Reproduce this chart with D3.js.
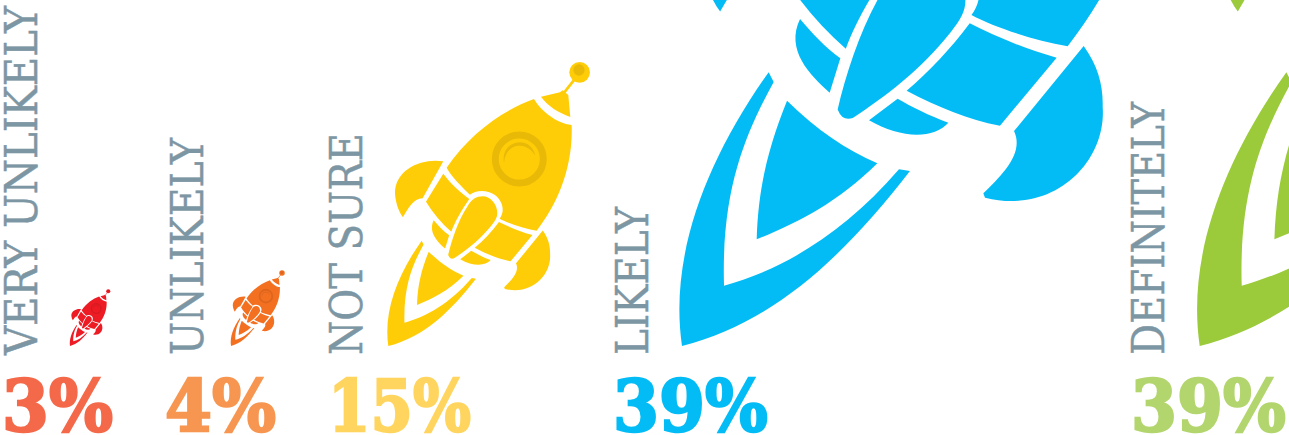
<!DOCTYPE html>
<html>
<head>
<meta charset="utf-8">
<script src="https://cdn.jsdelivr.net/npm/d3@7"></script>
<style>
  html, body { margin: 0; padding: 0; background: #fff; }
  svg { display: block; }
</style>
</head>
<body>
<svg id="chart" width="1289" height="435"></svg>
<script>
// Survey answers and their shares
const answers = ["VERY UNLIKELY", "UNLIKELY", "NOT SURE", "LIKELY", "DEFINITELY"];
const shares = [3, 4, 15, 39, 39];
const rocketColors = ["#ed1c24", "#f37021", "#ffcd08", "#03bcf6", "#9bcb3b"];
const shareColors = ["#f4694a", "#f79651", "#ffd55f", "#03bcf6", "#b3d56e"];

// Rocket outline, drawn with its tail tip at (25, 873) in its own grid
const rocketParts = [
  // hull
  "M462,132 C370,165 270,235 200,338 C215,365 245,395 270,419 C285,406 320,402 345,420 C370,440 375,470 359,491 C385,505 430,520 470,527 C530,450 580,340 575,210 C530,205 485,170 462,132Z",
  // nose cone
  "M483,125 L540,112 L548,106 L565,120 L571,186 C535,172 505,155 483,125Z",
  // left fin
  "M190,319 C130,308 45,340 45,415 C47,450 60,475 69,487 C85,460 100,430 128,430Z",
  // right fin
  "M488.5,526.8 C505,550 511,572 510.4,597 C515,660 455,722 374.6,701.8 L372.7,696.8 C395,675 420,650 408.1,625Z",
  // hull bands
  "M190,356 C215,390 245,415 268,432 C245,465 225,500 214,530 C185,505 160,475 138,440Z",
  "M357,500.7 C385,515 420,530 457.3,540.3 L391.9,618.8 C355,612 320,597 284.2,578.4 C310,557 335,530 357,500.7Z",
  "M161.2,495.7 C175,512 190,528 207.7,541.1 L195.4,580.7 C172.7,560.3 143.8,531.5 161.2,495.7Z",
  "M273.8,587.6 C290,597 310,607 332.3,615.3 C315,635 276.5,633.4 240.8,612.6Z",
  // centre fin
  "M204.6,600 C215,555 235,495 262,455 C275,432 290,424 308,424 C332,424 352,448 352,475 C352,487 346,497 335,511 C300,555 260,585 222,610 Q210,614 204.6,600Z",
  // flame, outer
  "M25,873 C10,770 52,660 125,557 L130.8,568.4 C100,625 70,690 73.5,803.4 C140,785 210,745 275.4,669.2 L288,671 C215,765 135,845 25,873Z",
  // flame, inner
  "M146.2,589.9 C180.4,623.8 215,646.8 250.4,662.2 C203.5,708.4 157.3,731.5 111.2,749.9 C113.1,685.3 126.5,639.2 146.2,589.9Z"
];

const svg = d3.select("#chart");

// One rocket grid unit per 45 share points: rockets grow in proportion to share
const size = d3.scaleLinear().domain([0, 45]).range([0, 1]);
const labelX = d3.scaleOrdinal().domain(d3.range(5)).range([3, 169, 328, 614, 1130]);
const tailX = d3.scaleOrdinal().domain(d3.range(5)).range([70, 231, 388.3, 682, 1199.7]);
const baseY = 346;

const rows = answers.map((answer, i) => ({
  answer, i, share: shares[i], rocket: rocketColors[i], tint: shareColors[i]
}));

const column = svg.selectAll("g.column").data(rows).join("g").attr("class", "column");

// Rockets
const rocket = column.append("g")
  .attr("transform", d => `translate(${tailX(d.i)},${baseY}) scale(${size(d.share)}) translate(-25,-873)`);

rocket.selectAll("path.part")
  .data(d => rocketParts.map(p => ({ p, color: d.rocket })))
  .join("path")
  .attr("class", "part")
  .attr("d", d => d.p)
  .attr("fill", d => d.color);

// Antenna, its tip, and the porthole
rocket.append("path")
  .attr("d", "M550,116 L588,68")
  .attr("stroke", d => d.rocket).attr("stroke-width", 8).attr("fill", "none");
rocket.append("circle").attr("cx", 599).attr("cy", 52).attr("r", 31).attr("fill", d => d.rocket);
rocket.append("circle").attr("cx", 597).attr("cy", 45).attr("r", 17)
  .attr("fill", "#000").attr("fill-opacity", 0.09);
rocket.append("circle").attr("cx", 418).attr("cy", 312).attr("r", 72)
  .attr("fill", "none").attr("stroke", "#000").attr("stroke-opacity", 0.09).attr("stroke-width", 21);
rocket.append("path")
  .attr("d", "M372,325 C365,280 395,262 420,262 C445,262 462,280 466,302 C452,280 435,272 418,272 C395,272 375,290 372,325Z")
  .attr("fill", "#000").attr("fill-opacity", 0.09);

// Squeeze a text horizontally so that it runs to the wanted length
function fitTo(selection, wanted, place) {
  selection.each(function (d) {
    const k = wanted(d) / this.getComputedTextLength();
    d3.select(this).attr("transform", `${place(d)} scale(${k},1)`);
  });
}

// Rotated answer labels
const labelLength = { "VERY UNLIKELY": 349, "UNLIKELY": 217, "NOT SURE": 222, "LIKELY": 148, "DEFINITELY": 253 };
column.append("text")
  .attr("font-family", "'DejaVu Serif', serif")
  .attr("font-size", 45)
  .attr("fill", "#7d96a4")
  .attr("stroke", "#7d96a4")
  .attr("stroke-width", 0.5)
  .text(d => d.answer)
  .call(fitTo, d => labelLength[d.answer], d => `translate(${labelX(d.i) + 34},355) rotate(-90)`);

// Share figures
const shareText = d3.format("d");
const figureX = d3.scaleOrdinal().domain(d3.range(5)).range([2, 165, 328, 613, 1131]);
column.append("text")
  .attr("font-family", "'DejaVu Serif', serif")
  .attr("font-size", 71)
  .attr("font-weight", 700)
  .attr("fill", d => d.tint)
  .attr("stroke", d => d.tint)
  .attr("stroke-width", 2.4)
  .text(d => shareText(d.share) + "%")
  .call(fitTo, d => (d.share < 10 ? 111 : d.i === 2 ? 143 : 155), d => `translate(${figureX(d.i)},431)`);
</script>
</body>
</html>
